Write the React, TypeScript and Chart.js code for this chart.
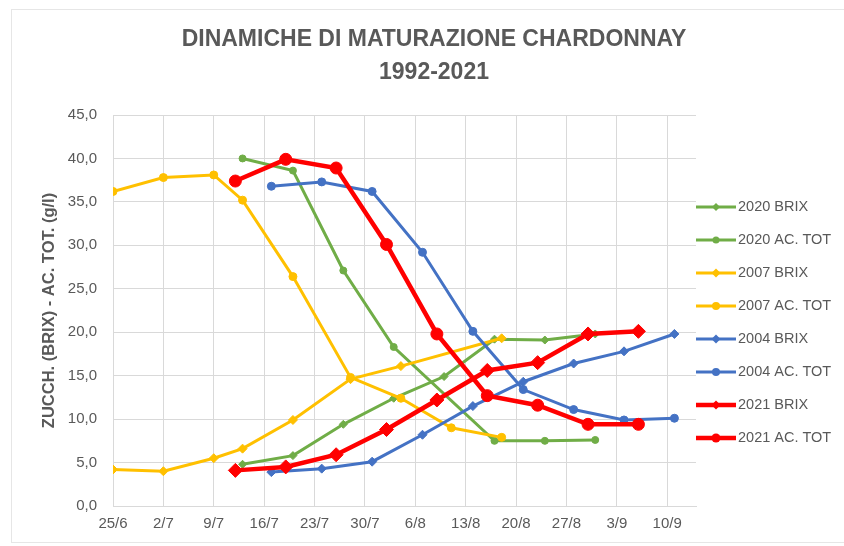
import React, { useEffect, useRef } from 'react';
import { Chart, registerables } from 'chart.js';

Chart.register(...registerables);

const TITLE_LINES = ['DINAMICHE DI MATURAZIONE CHARDONNAY', '1992-2021'];
const Y_TITLE = 'ZUCCH. (BRIX) - AC. TOT. (g/l)';
const X_TICKS = ['25/6', '2/7', '9/7', '16/7', '23/7', '30/7', '6/8', '13/8', '20/8', '27/8', '3/9', '10/9'];
const X_END = '14/9';
const Y_MIN = 0;
const Y_MAX = 45;
const Y_STEP = 5;

const DATES_2020 = ['13/7', '20/7', '27/7', '3/8', '10/8', '17/8', '24/8', '31/8'];
const BRIX_2020 = [4.8, 5.8, 9.4, 12.4, 14.9, 19.2, 19.1, 19.8];
const DATES_2020_AC = ['13/7', '20/7', '27/7', '3/8', '17/8', '24/8', '31/8'];
const AC_2020 = [40.0, 38.6, 27.1, 18.3, 7.5, 7.5, 7.6];

const DATES_2007 = ['25/6', '2/7', '9/7', '13/7', '20/7', '28/7', '4/8', '18/8'];
const BRIX_2007 = [4.2, 4.0, 5.5, 6.6, 9.9, 14.6, 16.1, 19.3];
const DATES_2007_AC = ['25/6', '2/7', '9/7', '13/7', '20/7', '28/7', '4/8', '11/8', '18/8'];
const AC_2007 = [36.2, 37.8, 38.1, 35.2, 26.4, 14.8, 12.4, 9.0, 7.9];

const DATES_2004 = ['17/7', '24/7', '31/7', '7/8', '14/8', '21/8', '28/8', '4/9', '11/9'];
const BRIX_2004 = [3.9, 4.3, 5.1, 8.2, 11.5, 14.3, 16.4, 17.8, 19.8];
const AC_2004 = [36.8, 37.3, 36.2, 29.2, 20.1, 13.4, 11.1, 9.9, 10.1];

const DATES_2021 = ['12/7', '19/7', '26/7', '2/8', '9/8', '16/8', '23/8', '30/8', '6/9'];
const BRIX_2021 = [4.1, 4.5, 5.9, 8.8, 12.2, 15.6, 16.5, 19.8, 20.1];
const AC_2021 = [37.4, 39.9, 38.9, 30.1, 19.8, 12.7, 11.6, 9.4, 9.4];

const GREEN = '#70AD47';
const YELLOW = '#FFC000';
const BLUE = '#4472C4';
const RED = '#FF0000';
const TEXT = '#595959';
const GRID = '#D9D9D9';
const FONT = '"Liberation Sans", Arial, sans-serif';

const BASE = Date.UTC(2021, 5, 25);
const DAY = 86400000;
const dayOf = (s: string) => {
  const [d, m] = s.split('/').map(Number);
  return (Date.UTC(2021, m - 1, d) - BASE) / DAY;
};
const labelOf = (v: number) => {
  const dt = new Date(BASE + v * DAY);
  return `${dt.getUTCDate()}/${dt.getUTCMonth() + 1}`;
};
const pts = (dates: string[], vals: number[]) => dates.map((d, i) => ({ x: dayOf(d), y: vals[i] }));

const series = (label: string, color: string, dates: string[], vals: number[], style: string, r: number, w: number, idx: number) => ({
  label,
  data: pts(dates, vals),
  borderColor: color,
  backgroundColor: color,
  pointBackgroundColor: color,
  pointBorderColor: color,
  borderWidth: w,
  pointStyle: style,
  pointRadius: r,
  pointBorderWidth: 1,
  tension: 0,
  fill: false,
  order: 10 - idx,
});

const overlayPlugin = {
  id: 'overlay',
  afterDraw(chart: any) {
    const { ctx, chartArea } = chart;
    ctx.save();
    ctx.fillStyle = TEXT;
    ctx.textAlign = 'center';
    ctx.textBaseline = 'middle';
    ctx.font = `bold 23px ${FONT}`;
    TITLE_LINES.forEach((t, i) => ctx.fillText(t, chart.width / 2 + 12, 40 + i * 33));

    ctx.font = `14.5px ${FONT}`;
    ctx.textAlign = 'left';
    chart.data.datasets.forEach((ds: any, i: number) => {
      const y = chartArea.top + 92 + i * 33;
      const x0 = chartArea.right;
      ctx.strokeStyle = ds.borderColor;
      ctx.fillStyle = ds.borderColor;
      ctx.lineWidth = ds.borderWidth;
      ctx.beginPath();
      ctx.moveTo(x0, y);
      ctx.lineTo(x0 + 40, y);
      ctx.stroke();
      const r = Math.min(ds.pointRadius, 4.5);
      const cx = x0 + 20;
      ctx.beginPath();
      if (ds.pointStyle === 'circle') {
        ctx.arc(cx, y, r, 0, Math.PI * 2);
      } else {
        ctx.moveTo(cx, y - r);
        ctx.lineTo(cx + r, y);
        ctx.lineTo(cx, y + r);
        ctx.lineTo(cx - r, y);
        ctx.closePath();
      }
      ctx.fill();
      ctx.fillStyle = TEXT;
      ctx.fillText(ds.label, x0 + 42, y);
    });
    ctx.restore();
  },
};

export default function App() {
  const ref = useRef<HTMLCanvasElement>(null);

  useEffect(() => {
    if (!ref.current) return;
    const datasets = [
      series('2020 BRIX', GREEN, DATES_2020, BRIX_2020, 'rectRot', 4, 3, 0),
      series('2020 AC. TOT', GREEN, DATES_2020_AC, AC_2020, 'circle', 3.5, 3, 1),
      series('2007 BRIX', YELLOW, DATES_2007, BRIX_2007, 'rectRot', 4.5, 3, 2),
      series('2007 AC. TOT', YELLOW, DATES_2007_AC, AC_2007, 'circle', 4, 3, 3),
      series('2004 BRIX', BLUE, DATES_2004, BRIX_2004, 'rectRot', 4.5, 3, 4),
      series('2004 AC. TOT', BLUE, DATES_2004, AC_2004, 'circle', 4, 3, 5),
      series('2021 BRIX', RED, DATES_2021, BRIX_2021, 'rectRot', 7, 4.5, 6),
      series('2021 AC. TOT', RED, DATES_2021, AC_2021, 'circle', 6, 4.5, 7),
    ];
    const chart = new Chart(ref.current, {
      type: 'line',
      data: { datasets },
      plugins: [overlayPlugin],
      options: {
        responsive: false,
        animation: false,
        layout: { padding: { left: 40, right: 148, top: 115, bottom: 4 } },
        plugins: {
          legend: { display: false },
          title: { display: false },
          tooltip: { enabled: false },
        },
        scales: {
          x: {
            type: 'linear',
            min: dayOf(X_TICKS[0]),
            max: dayOf(X_END),
            afterBuildTicks: (scale: any) => {
              scale.ticks = X_TICKS.map((t) => ({ value: dayOf(t) }));
            },
            ticks: {
              autoSkip: false,
              maxRotation: 0,
              padding: 9,
              color: TEXT,
              font: { family: FONT, size: 15 },
              callback: (v: any) => labelOf(Number(v)),
            },
            grid: { color: GRID, lineWidth: 1, drawTicks: false },
            border: { color: GRID },
          },
          y: {
            min: Y_MIN,
            max: Y_MAX,
            afterFit: (scale: any) => {
              scale.width = 73;
            },
            ticks: {
              stepSize: Y_STEP,
              padding: 16,
              color: TEXT,
              font: { family: FONT, size: 15 },
              callback: (v: any) => Number(v).toFixed(1).replace('.', ','),
            },
            grid: { color: GRID, lineWidth: 1, drawTicks: false },
            border: { color: GRID },
            title: {
              display: true,
              text: Y_TITLE,
              color: TEXT,
              font: { family: FONT, size: 16.5, weight: 'bold' },
              padding: { top: 0, bottom: 8 },
            },
          },
        },
      },
    } as any);
    return () => chart.destroy();
  }, []);

  return (
    <div style={{ position: 'fixed', left: 0, top: 0, width: 844, height: 546, overflow: 'hidden', background: '#fff' }}>
      <div style={{ position: 'absolute', left: 11, top: 9, width: 900, height: 532, border: '1px solid #E6E6E6' }} />
      <canvas ref={ref} width={844} height={546} style={{ position: 'absolute', left: 0, top: 0, width: 844, height: 546 }} />
    </div>
  );
}
